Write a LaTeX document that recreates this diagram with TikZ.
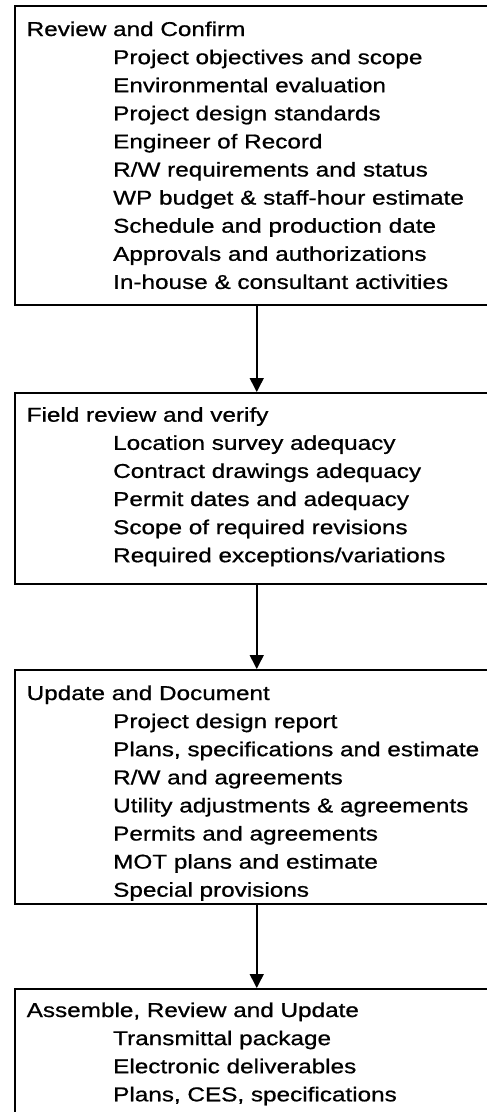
\documentclass[tikz,border=0pt]{standalone}
\usepackage{fontspec}
\setmainfont{Liberation Sans}[FakeStretch=1.215,FakeBold=0.8]
\usetikzlibrary{arrows.meta}
\begin{document}
\begin{tikzpicture}[x=1pt,y=-1pt,
  box/.style={draw, line width=1.5pt, minimum width=484pt, inner sep=0pt, anchor=north west},
  txt/.style={anchor=base west, inner sep=0pt, font=\fontsize{20}{24}\selectfont},
  flow/.style={-{Triangle[length=14pt,width=14pt]}, line width=1.5pt}]
\useasboundingbox (0,0) rectangle (487,1112);
\clip (0,0) rectangle (487,1112);
\fill[white] (0,0) rectangle (487,1112);
% boxes
\node[box, minimum height=299pt] (b1) at (14,5) {};
\node[box, minimum height=191pt] (b2) at (14,392) {};
\node[box, minimum height=234pt] (b3) at (14,669) {};
\node[box, minimum height=160pt] (b4) at (14,988) {};
% box 1 text
\node[txt] (h1) at (26.5,36) {Review and Confirm};
\node[txt] (a1) at (113,64.1) {Project objectives and scope};
\node[txt] (a2) at (113,92.2) {Environmental evaluation};
\node[txt] (a3) at (113,120.3) {Project design standards};
\node[txt] (a4) at (113,148.4) {Engineer of Record};
\node[txt] (a5) at (113,176.5) {R/W requirements and status};
\node[txt] (a6) at (113,204.6) {WP budget \& staff-hour estimate};
\node[txt] (a7) at (113,232.7) {Schedule and production date};
\node[txt] (a8) at (113,260.8) {Approvals and authorizations};
\node[txt] (a9) at (113,288.9) {In-house \& consultant activities};
% box 2 text
\node[txt] (h2) at (26.5,421.7) {Field review and verify};
\node[txt] (c1) at (113,449.8) {Location survey adequacy};
\node[txt] (c2) at (113,477.9) {Contract drawings adequacy};
\node[txt] (c3) at (113,506.0) {Permit dates and adequacy};
\node[txt] (c4) at (113,534.1) {Scope of required revisions};
\node[txt] (c5) at (113,562.2) {Required exceptions/variations};
% box 3 text
\node[txt] (h3) at (26.5,700) {Update and Document};
\node[txt] (d1) at (113,728.1) {Project design report};
\node[txt] (d2) at (113,756.2) {Plans, specifications and estimate};
\node[txt] (d3) at (113,784.3) {R/W and agreements};
\node[txt] (d4) at (113,812.4) {Utility adjustments \& agreements};
\node[txt] (d5) at (113,840.5) {Permits and agreements};
\node[txt] (d6) at (113,868.6) {MOT plans and estimate};
\node[txt] (d7) at (113,896.7) {Special provisions};
% box 4 text
\node[txt] (h4) at (26.5,1017) {Assemble, Review and Update};
\node[txt] (e1) at (113,1045.1) {Transmittal package};
\node[txt] (e2) at (113,1073.2) {Electronic deliverables};
\node[txt] (e3) at (113,1101.3) {Plans, CES, specifications};
% connectors
\draw[flow] (b1.south) -- (b2.north);
\draw[flow] (b2.south) -- (b3.north);
\draw[flow] (b3.south) -- (b4.north);
\end{tikzpicture}
\end{document}
